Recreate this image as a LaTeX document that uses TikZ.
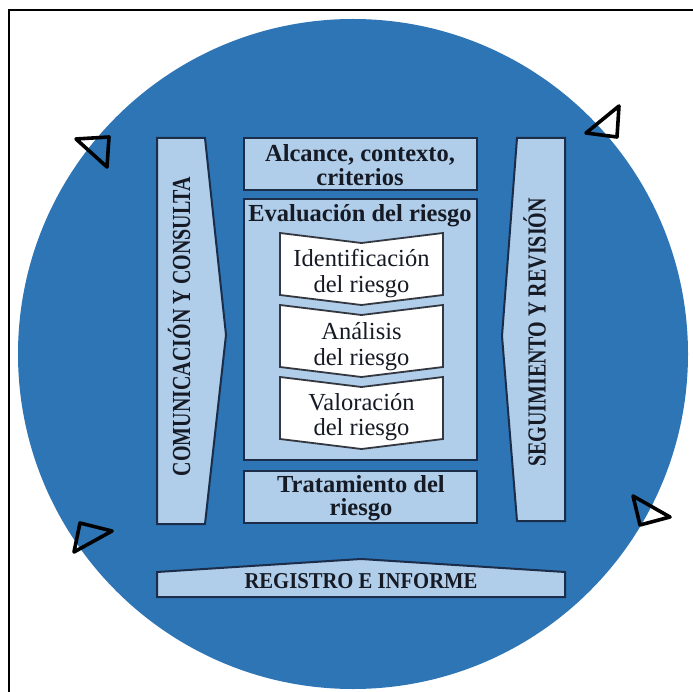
\documentclass[tikz,border=0pt]{standalone}
\usepackage{fontspec}
\setmainfont{Liberation Serif}
\newfontfamily\condA[FakeStretch=0.77]{Liberation Serif}
\newfontfamily\condB[FakeStretch=0.91]{Liberation Serif}
\definecolor{circblue}{HTML}{2E75B6}
\definecolor{lightb}{HTML}{B0CDEA}
\definecolor{boxline}{HTML}{1B2D48}
\definecolor{chevline}{HTML}{33373F}
\definecolor{txt}{HTML}{161A24}
\tikzset{
  box/.style={draw=boxline, fill=lightb, line width=2pt, line join=miter},
  chev/.style={draw=chevline, fill=white, line width=1.8pt},
  tri/.style={draw=black, line width=3.6pt, line join=round},
  lbl/.style={font=\bfseries\fontsize{24.5}{26}\selectfont, text=txt, inner sep=0pt, anchor=base},
  lblr/.style={font=\fontsize{24.5}{26}\selectfont, text=txt, inner sep=0pt, anchor=base},
  vlbl/.style={font=\condA\bfseries\fontsize{26}{28}\selectfont, text=txt, inner sep=0pt, anchor=base, rotate=90},
  hlbl/.style={font=\condB\bfseries\fontsize{22.7}{24}\selectfont, text=txt, inner sep=0pt, anchor=base}
}
\begin{document}
\begin{tikzpicture}[x=1pt, y=-1pt]
\useasboundingbox (0,0) rectangle (693,692);
\fill[white] (0,0) rectangle (693,692);
% frame
\draw[line width=2.2pt] (9,692) -- (9,10) -- (693,10);
% circle
\fill[circblue] (353,354) circle (335);
% triangles
\draw[tri] (76,139) -- (109,137) -- (107,167) -- cycle;
\draw[tri] (586,133) -- (619,106) -- (617,137) -- cycle;
\draw[tri] (80,523) -- (112,531) -- (74,552) -- cycle;
\draw[tri] (633,496) -- (670,517) -- (640,525) -- cycle;
% side boxes
\draw[box] (157,138) -- (205,138) -- (226,335) -- (205,524) -- (157,524) -- cycle;
\draw[box] (517,138) -- (565,138) -- (565,521) -- (517,521) -- (502,336) -- cycle;
% centre boxes
\draw[box] (244,138) rectangle (477,190);
\draw[box] (244,199) rectangle (477,460);
\draw[box] (244,471) rectangle (477,523);
\draw[box] (157,597) -- (157,572) -- (361,559) -- (565,572) -- (565,597) -- cycle;
% chevrons
\foreach \t in {233,305,377}{
  \draw[chev] (280,\t) -- (361.5,\t+10) -- (443,\t) -- (443,\t+62) -- (361.5,\t+72) -- (280,\t+62) -- cycle;
}
% labels
\node[lbl] (alc1) at (360,162) {Alcance, contexto,};
\node[lbl] (alc2) at (360,186) {criterios};
\node[lbl] (eval) at (360,222) {Evaluación del riesgo};
\node[lblr] (id1) at (361.5,267) {Identificación};
\node[lblr] (id2) at (361.5,293) {del riesgo};
\node[lblr] (an1) at (361.5,340) {Análisis};
\node[lblr] (an2) at (361.5,365) {del riesgo};
\node[lblr] (va1) at (361.5,410) {Valoración};
\node[lblr] (va2) at (361.5,435) {del riesgo};
\node[lbl] (tr1) at (361,492) {Tratamiento del};
\node[lbl] (tr2) at (361,515) {riesgo};
\node[hlbl] (reg) at (361,588) {REGISTRO E INFORME};
\node[vlbl] (com) at (190,326.5) {COMUNICACIÓN Y CONSULTA};
\node[vlbl] (seg) at (545.5,332.5) {SEGUIMIENTO Y REVISIÓN};
\end{tikzpicture}
\end{document}
